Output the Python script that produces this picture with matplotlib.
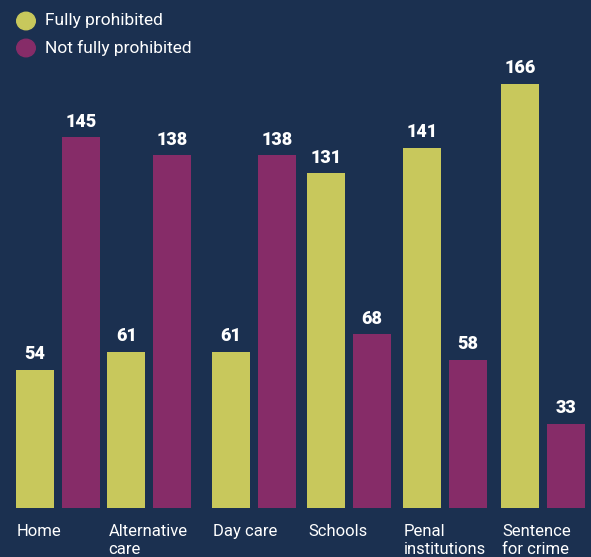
import matplotlib.pyplot as plt
import numpy as np

# Data
categories = ["Home", "Alternative\ncare", "Day care", "Schools",
              "Penal\ninstitutions", "Sentence\nfor crime"]
fully = [54, 61, 61, 131, 141, 166]
not_fully = [145, 138, 138, 68, 58, 33]

bg = "#1b3050"
yellow = "#c8c85c"
purple = "#862c68"

plt.rcParams['font.family'] = ['Roboto', 'DejaVu Sans']

fig = plt.figure(figsize=(5.91, 5.57), dpi=100)
fig.patch.set_facecolor(bg)

# axes fills width, bottom at the bar baseline
ax = fig.add_axes([0, 49 / 557, 1, 1 - 49 / 557])
ax.set_facecolor(bg)
ax.set_xlim(-0.598, 5.495)
ax.set_ylim(0, 508 / 2.556)
for s in ax.spines.values():
    s.set_visible(False)
ax.set_xticks([])
ax.set_yticks([])

# group centres (slightly uneven in the original)
x = np.array([0, 0.942, 2.018, 3.0, 3.99, 5.0])
w = 0.392
off = 0.237
ax.bar(x - off, fully, width=w, color=yellow)
ax.bar(x + off, not_fully, width=w, color=purple)

for xi, v in zip(x - off, fully):
    ax.text(xi, v + 2.6, str(v), ha="center", va="bottom",
            color="white", fontsize=13, fontweight="black")
for xi, v in zip(x + off, not_fully):
    ax.text(xi, v + 2.6, str(v), ha="center", va="bottom",
            color="white", fontsize=13, fontweight="black")

# category labels under the bars, left aligned to the yellow bar
for xi, lab in zip(x - off - w / 2, categories):
    ax.text(xi + 0.01, -6.3, lab, ha="left", va="top", color="white",
            fontsize=12, linespacing=1.2, clip_on=False)

# legend
fig.patches.append(plt.Circle((26 / 591, 1 - 21 / 557), 9.3 / 591,
                              transform=fig.transFigure, color=yellow))
fig.patches.append(plt.Circle((26 / 591, 1 - 48 / 557), 9.3 / 591,
                              transform=fig.transFigure, color=purple))
fig.text(45 / 591, 1 - 21 / 557, "Fully prohibited", color="white",
         fontsize=12.5, va="center")
fig.text(45 / 591, 1 - 48 / 557, "Not fully prohibited", color="white",
         fontsize=12.5, va="center")

fig.savefig("out.png", dpi=100, facecolor=bg)
